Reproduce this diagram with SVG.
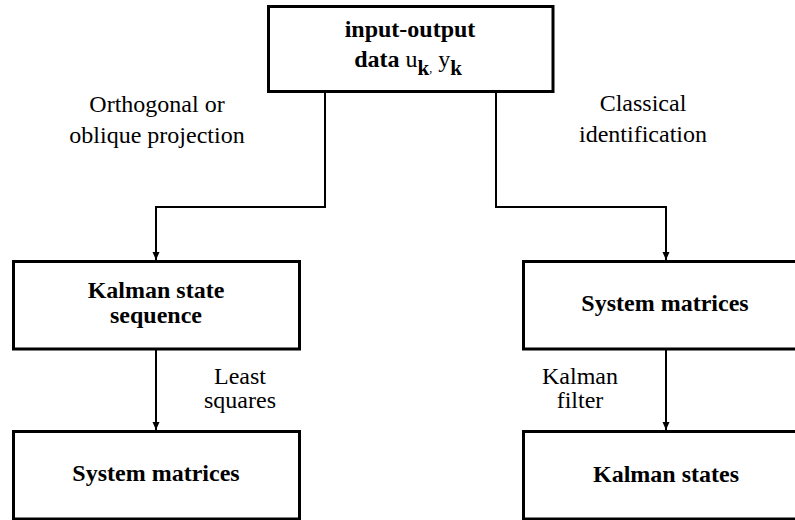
<svg xmlns="http://www.w3.org/2000/svg" width="795" height="520" viewBox="0 0 795 520">
<defs>
<style>
.box{fill:#fff;stroke:#000;stroke-width:3}
.con{fill:none;stroke:#000;stroke-width:2}
.bt{font-weight:bold;font-size:24px;text-anchor:middle;fill:#000}
.lb{font-size:24px;text-anchor:middle;fill:#000}
</style>
<marker id="ah" markerWidth="8" markerHeight="8" refX="8" refY="4" orient="auto" markerUnits="userSpaceOnUse">
<path d="M0,0.5 L8,4 L0,7.5 Z" fill="#000"/>
</marker>
</defs>
<rect width="795" height="520" fill="#fff"/>
<g id="connectors">
<path class="con" d="M325,92 V207 H156 V260" marker-end="url(#ah)"/>
<path class="con" d="M496,92 V207 H666 V260" marker-end="url(#ah)"/>
<path class="con" d="M156,349 V430" marker-end="url(#ah)"/>
<path class="con" d="M666,349 V430" marker-end="url(#ah)"/>
</g>
<g id="labels" font-family="Liberation Serif, Times New Roman, serif">
<text class="lb" x="157" y="112">Orthogonal or</text>
<text class="lb" x="157" y="143">oblique projection</text>
<text class="lb" x="643" y="111">Classical</text>
<text class="lb" x="643" y="142">identification</text>
<text class="lb" x="240" y="384">Least</text>
<text class="lb" x="240" y="408">squares</text>
<text class="lb" x="580" y="384">Kalman</text>
<text class="lb" x="580" y="408">filter</text>
</g>
<g id="input" font-family="Liberation Serif, Times New Roman, serif">
<rect class="box" x="268.5" y="6.5" width="284.5" height="85"/>
<text class="bt" x="410" y="37">input-output</text>
<text class="bt" x="408" y="67">data <tspan font-weight="normal">u</tspan><tspan dy="8" font-size="21">k</tspan><tspan dy="-3" font-size="12" font-weight="normal">,</tspan><tspan dy="-5" font-weight="normal"> y</tspan><tspan dy="8" font-size="21">k</tspan></text>
</g>
<g id="kalman-seq" font-family="Liberation Serif, Times New Roman, serif">
<rect class="box" x="13.5" y="261.5" width="286" height="87.5"/>
<text class="bt" x="156" y="298">Kalman state</text>
<text class="bt" x="156" y="323">sequence</text>
</g>
<g id="sysmat-left" font-family="Liberation Serif, Times New Roman, serif">
<rect class="box" x="13.5" y="431.5" width="286" height="87.5"/>
<text class="bt" x="156" y="481">System matrices</text>
</g>
<g id="sysmat-right" font-family="Liberation Serif, Times New Roman, serif">
<rect class="box" x="523.5" y="261.5" width="285" height="87.5"/>
<text class="bt" x="665" y="311">System matrices</text>
</g>
<g id="kalman-states" font-family="Liberation Serif, Times New Roman, serif">
<rect class="box" x="523.5" y="431.5" width="285" height="87.5"/>
<text class="bt" x="666" y="482">Kalman states</text>
</g>
</svg>
